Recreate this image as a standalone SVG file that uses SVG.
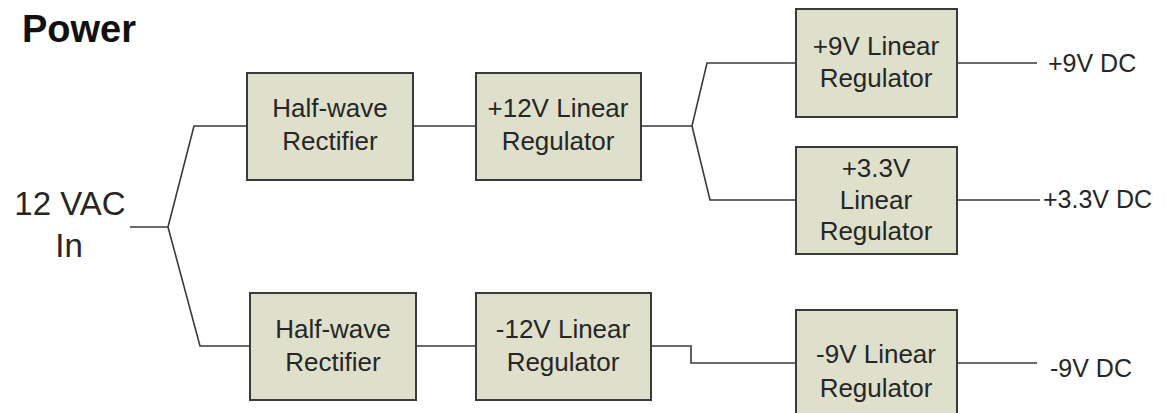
<svg xmlns="http://www.w3.org/2000/svg" width="1167" height="413" viewBox="0 0 1167 413">
<style>
  .box { fill: #dee0cc; stroke: #3a3a3a; stroke-width: 2; }
  .lbl { font-family: "Liberation Sans", Arial, sans-serif; font-size: 26px; fill: #262626; text-anchor: middle; }
  .out { font-family: "Liberation Sans", Arial, sans-serif; font-size: 25px; fill: #262626; }
  .wire { fill: none; stroke: #3a3a3a; stroke-width: 1.6; }
</style>
<rect width="1167" height="413" fill="#ffffff"/>
<text x="22" y="42" font-family="Liberation Sans, Arial, sans-serif" font-size="38" font-weight="bold" fill="#111">Power</text>

<g id="input">
  <text class="lbl" x="70" y="215" font-size="33" style="font-size:33px">12 VAC</text>
  <text class="lbl" x="69" y="257" style="font-size:33px">In</text>
</g>

<g id="connectors">
  <polyline class="wire" points="130,227 168,227"/>
  <polyline class="wire" points="168,227 194,126 247,126"/>
  <polyline class="wire" points="168,227 200,346 250,346"/>
  <polyline class="wire" points="413,126 476,126"/>
  <polyline class="wire" points="416,346 476,346"/>
  <polyline class="wire" points="641,126 692,126 707,63 796,63"/>
  <polyline class="wire" points="692,126 710,200 796,200"/>
  <polyline class="wire" points="651,346 691,346 691,363 796,363"/>
  <polyline class="wire" points="957,63 1037,63"/>
  <polyline class="wire" points="957,200 1040,200"/>
  <polyline class="wire" points="957,363 1037,363"/>
</g>

<g id="rect_top">
  <rect class="box" x="247" y="73" width="166" height="107"/>
  <text class="lbl" x="330" y="117">Half-wave</text>
  <text class="lbl" x="330" y="150">Rectifier</text>
</g>
<g id="reg_p12">
  <rect class="box" x="476" y="73" width="165" height="107"/>
  <text class="lbl" x="558" y="117">+12V Linear</text>
  <text class="lbl" x="558" y="150">Regulator</text>
</g>
<g id="reg_p9">
  <rect class="box" x="796" y="9" width="161" height="108"/>
  <text class="lbl" x="876" y="55">+9V Linear</text>
  <text class="lbl" x="876" y="87">Regulator</text>
</g>
<g id="reg_p33">
  <rect class="box" x="796" y="147" width="161" height="107"/>
  <text class="lbl" x="876" y="177">+3.3V</text>
  <text class="lbl" x="876" y="209">Linear</text>
  <text class="lbl" x="876" y="240">Regulator</text>
</g>
<g id="rect_bottom">
  <rect class="box" x="250" y="293" width="166" height="107"/>
  <text class="lbl" x="333" y="338">Half-wave</text>
  <text class="lbl" x="333" y="371">Rectifier</text>
</g>
<g id="reg_m12">
  <rect class="box" x="476" y="293" width="175" height="107"/>
  <text class="lbl" x="563" y="338">-12V Linear</text>
  <text class="lbl" x="563" y="371">Regulator</text>
</g>
<g id="reg_m9">
  <rect class="box" x="796" y="310" width="161" height="115"/>
  <text class="lbl" x="876" y="363">-9V Linear</text>
  <text class="lbl" x="876" y="397">Regulator</text>
</g>

<g id="outputs">
  <text class="out" x="1048" y="72">+9V DC</text>
  <text class="out" x="1043" y="208">+3.3V DC</text>
  <text class="out" x="1050" y="377">-9V DC</text>
</g>
</svg>
